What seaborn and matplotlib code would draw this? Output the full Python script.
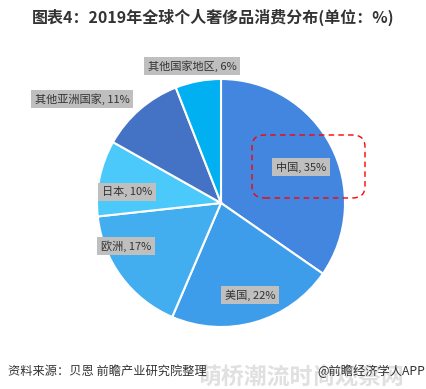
import matplotlib
matplotlib.use("Agg")
import matplotlib.pyplot as plt
import seaborn as sb
from matplotlib.patches import FancyBboxPatch

# data
regions = ["中国", "美国", "欧洲", "日本", "其他亚洲国家", "其他国家地区"]
shares = [35, 22, 17, 10, 11, 6]
colors = ["#4286E0", "#3E9DEB", "#42AEF0", "#4CC9FB", "#4473C5", "#00B0F0"]

# label positions (pie data coords, radius 1)
label_pos = [(0.645, 0.29), (0.234, -0.742), (-0.766, -0.347),
             (-0.758, 0.089), (-1.121, 0.839), (-0.234, 1.105)]

sb.set_theme(style="white")
plt.rcParams['font.family'] = ['Noto Sans CJK SC', 'DejaVu Sans']

fig = plt.figure(figsize=(4.27, 3.89), dpi=100)
W, H = 427, 389
cx, cy, r = 221, 203, 124
ax = fig.add_axes([(cx - r) / W, (H - cy - r) / H, 2 * r / W, 2 * r / H])

labels = [f"{n}, {v}%" for n, v in zip(regions, shares)]
wedges, texts = ax.pie(shares, colors=sb.color_palette(colors), startangle=90,
                       counterclock=False, labels=labels, labeldistance=0.6,
                       wedgeprops=dict(edgecolor="white", linewidth=1.5),
                       textprops=dict(fontsize=8, color="#333333"))
for t, (x, y) in zip(texts, label_pos):
    t.set_position((x, y))
    t.set_ha("center")
    t.set_va("center")
    t.set_bbox(dict(facecolor="#BFBFBF", edgecolor="none", pad=2.5))
ax.set_xlim(-1, 1)
ax.set_ylim(-1, 1)
ax.axis("off")

# red dashed highlight box around the China label
box = FancyBboxPatch((252 / W, 1 - 198 / H), 113 / W, 63 / H,
                     boxstyle="round,pad=0,rounding_size=0.03",
                     transform=fig.transFigure, fill=False,
                     edgecolor="#FF0000", linestyle=(0, (4, 3)), linewidth=1)
fig.add_artist(box)

fig.text(0.5, 1 - 17 / H, "图表4：2019年全球个人奢侈品消费分布(单位：%)",
         ha="center", va="center", fontsize=11.5, fontweight="bold", color="#333333")
# faint watermark behind the footer
fig.text(302 / W, 1 - 378 / H, "萌桥潮流时尚观察网",
         ha="center", va="center", fontsize=16.5, fontweight="bold", color="#D9D9D9", alpha=0.8)
fig.text(8 / W, 1 - 371 / H, "资料来源：贝恩 前瞻产业研究院整理",
         ha="left", va="center", fontsize=8.8, color="#333333")
fig.text(425 / W, 1 - 371 / H, "@前瞻经济学人APP",
         ha="right", va="center", fontsize=8.8, color="#333333")

fig.savefig("out.png", dpi=100)
